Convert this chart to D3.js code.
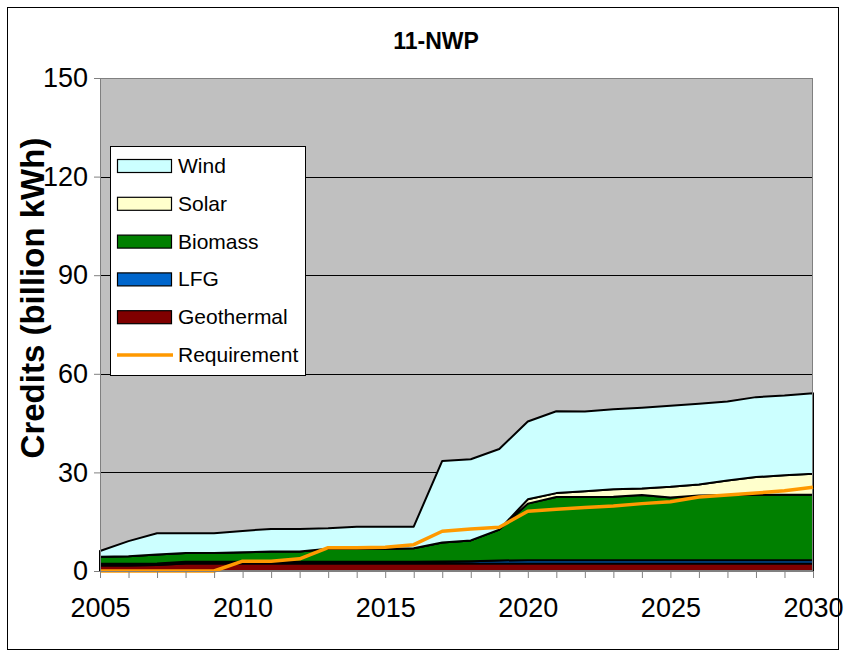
<!DOCTYPE html>
<html>
<head>
<meta charset="utf-8">
<script src="https://cdn.jsdelivr.net/npm/d3@7"></script>
<style>
  html, body { margin: 0; padding: 0; background: #ffffff; }
  svg { display: block; font-family: Arial, "Liberation Sans", sans-serif; }
</style>
</head>
<body>
<svg id="chart" width="847" height="664"></svg>
<script>
// Years on the category axis
const years = d3.range(2005, 2031);
const xTickLabels = ["2005", "2010", "2015", "2020", "2025", "2030"];
const yTicks = [0, 30, 60, 90, 120, 150];

// Credits by resource (billion kWh), stacked bottom to top
const geothermal = [1.7, 1.7, 1.8, 2.3, 2.3, 2.3, 2.3, 2.3, 2.3, 2.3, 2.3, 2.3, 2.3,
                    2.3, 2.3, 2.3, 2.3, 2.3, 2.3, 2.3, 2.3, 2.3, 2.3, 2.3, 2.3, 2.3];
const lfg        = [0.5, 0.5, 0.5, 0.5, 0.5, 0.5, 0.5, 0.5, 0.5, 0.5, 0.5, 0.5, 0.6,
                    0.7, 0.9, 1.0, 1.0, 1.0, 1.0, 1.0, 1.0, 1.0, 1.0, 1.0, 1.0, 1.0];
const biomass    = [2.1, 2.3, 2.7, 2.7, 2.7, 2.9, 3.1, 3.1, 4.0, 4.0, 4.0, 4.1, 5.8,
                    6.3, 9.4, 17.2, 19.2, 19.2, 19.3, 19.8, 19.1, 19.7, 19.8, 19.9, 19.9, 19.9];
const solar      = [0, 0, 0, 0, 0, 0, 0, 0, 0, 0, 0, 0, 0,
                    0, 0, 1.3, 1.2, 1.8, 2.3, 2.0, 3.2, 3.3, 4.4, 5.4, 5.9, 6.4];
const wind       = [1.8, 4.6, 6.5, 6.0, 6.0, 6.5, 6.9, 6.9, 6.2, 6.7, 6.7, 6.6, 24.8,
                    24.7, 24.5, 23.7, 24.9, 24.2, 24.3, 24.6, 24.7, 24.6, 24.1, 24.3, 24.3, 24.5];
const requirement = [0, 0, 0, 0, 0, 3.0, 3.0, 3.7, 7.1, 7.1, 7.2, 8.0, 12.1,
                     12.8, 13.3, 18.2, 18.8, 19.3, 19.8, 20.5, 21.1, 22.5, 23.1, 23.7, 24.4, 25.5];

const seriesKeys   = ["Geothermal", "LFG", "Biomass", "Solar", "Wind"];
const seriesValues = [geothermal, lfg, biomass, solar, wind];
const seriesColors = ["#800000", "#0066CC", "#008000", "#FFFFCC", "#CCFFFF"];
const legendOrder  = ["Wind", "Solar", "Biomass", "LFG", "Geothermal"];

const table = years.map((yr, i) => {
  const row = { year: yr };
  seriesKeys.forEach((k, j) => { row[k] = seriesValues[j][i]; });
  return row;
});

const svg = d3.select("#chart");

// Outer chart frame
svg.append("rect")
  .attr("x", 7.5).attr("y", 7.5).attr("width", 831).attr("height", 642)
  .attr("fill", "#ffffff").attr("stroke", "#000000").attr("stroke-width", 1);

const plot = { left: 100, right: 813, top: 78, bottom: 571 };

const x = d3.scaleLinear().domain([2005, 2030]).range([plot.left, plot.right]);
const y = d3.scaleLinear().domain([0, 150]).range([plot.bottom, plot.top]);

// Plot background
svg.append("rect")
  .attr("x", plot.left).attr("y", plot.top)
  .attr("width", plot.right - plot.left).attr("height", plot.bottom - plot.top)
  .attr("fill", "#C0C0C0");

// Horizontal gridlines
svg.append("g")
  .selectAll("line")
  .data(yTicks.filter(v => v > 0 && v < 150))
  .join("line")
  .attr("x1", plot.left).attr("x2", plot.right)
  .attr("y1", d => Math.round(y(d)) + 0.5).attr("y2", d => Math.round(y(d)) + 0.5)
  .attr("stroke", "#000000").attr("stroke-width", 1);

// Stacked areas
const stack = d3.stack().keys(seriesKeys).order(d3.stackOrderNone).offset(d3.stackOffsetNone);
const layers = stack(table);

const area = d3.area()
  .x(d => x(d.data.year))
  .y0(d => y(d[0]))
  .y1(d => y(d[1]));

svg.append("g")
  .selectAll("path")
  .data(layers)
  .join("path")
  .attr("d", area)
  .attr("fill", (d, i) => seriesColors[i])
  .attr("stroke", "#000000")
  .attr("stroke-width", 2)
  .attr("stroke-linejoin", "round");

// Plot border
svg.append("rect")
  .attr("x", plot.left + 0.5).attr("y", plot.top + 0.5)
  .attr("width", plot.right - plot.left - 1).attr("height", plot.bottom - plot.top - 1)
  .attr("fill", "none").attr("stroke", "#808080").attr("stroke-width", 1);

// Requirement line
const line = d3.line()
  .x((d, i) => x(years[i]))
  .y(d => y(d));

svg.append("path")
  .datum(requirement)
  .attr("d", line)
  .attr("fill", "none")
  .attr("stroke", "#FF9900")
  .attr("stroke-width", 3.5)
  .attr("stroke-linejoin", "round");

// Y axis
const yAxis = d3.axisLeft(y).tickValues(yTicks).tickSize(6).tickPadding(6).tickFormat(d3.format("d"));
const yg = svg.append("g").attr("transform", `translate(${plot.left},0)`).call(yAxis);
yg.select(".domain").attr("stroke", "#808080");
yg.selectAll(".tick line").attr("stroke", "#808080");
yg.selectAll(".tick text")
  .attr("font-size", 27).attr("fill", "#000000")
  .attr("font-family", "Arial, 'Liberation Sans', sans-serif");

// X axis: a tick for each year, labels every five years
const xAxis = d3.axisBottom(x).tickValues(years).tickSize(7).tickPadding(20)
  .tickFormat(d => xTickLabels.includes(String(d)) ? String(d) : "");
const xg = svg.append("g").attr("transform", `translate(0,${plot.bottom})`).call(xAxis);
xg.select(".domain").attr("stroke", "#808080");
xg.selectAll(".tick line").attr("stroke", "#808080");
xg.selectAll(".tick text")
  .attr("font-size", 27).attr("fill", "#000000")
  .attr("font-family", "Arial, 'Liberation Sans', sans-serif");

// Title
svg.append("text")
  .attr("x", 436).attr("y", 49)
  .attr("text-anchor", "middle")
  .attr("font-size", 23).attr("font-weight", "bold")
  .text("11-NWP");

// Y axis title
svg.append("text")
  .attr("transform", "translate(44,298) rotate(-90)")
  .attr("text-anchor", "middle")
  .attr("font-size", 33).attr("font-weight", "bold")
  .text("Credits (billion kWh)");

// Legend
const legend = svg.append("g");
legend.append("rect")
  .attr("x", 110.5).attr("y", 146.5).attr("width", 195).attr("height", 229)
  .attr("fill", "#ffffff").attr("stroke", "#000000").attr("stroke-width", 1);

const rowY = d3.scalePoint()
  .domain([...legendOrder, "Requirement"])
  .range([166, 355]);

legendOrder.forEach(k => {
  const idx = seriesKeys.indexOf(k);
  legend.append("rect")
    .attr("x", 117.5).attr("y", rowY(k) - 6.5).attr("width", 54).attr("height", 13)
    .attr("fill", seriesColors[idx]).attr("stroke", "#000000").attr("stroke-width", 1.2);
  legend.append("text")
    .attr("x", 178).attr("y", rowY(k) + 7)
    .attr("font-size", 21)
    .text(k);
});

legend.append("line")
  .attr("x1", 117).attr("x2", 173)
  .attr("y1", rowY("Requirement")).attr("y2", rowY("Requirement"))
  .attr("stroke", "#FF9900").attr("stroke-width", 3.5);
legend.append("text")
  .attr("x", 178).attr("y", rowY("Requirement") + 7)
  .attr("font-size", 21)
  .text("Requirement");
</script>
</body>
</html>
